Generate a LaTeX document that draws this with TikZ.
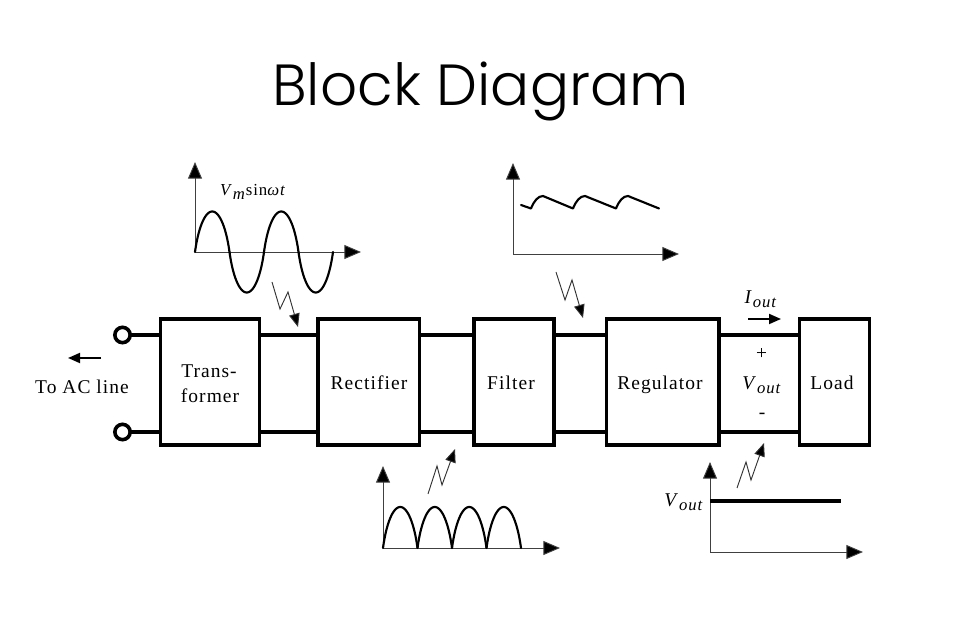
\documentclass[tikz,border=0pt]{standalone}
\usepackage{fontspec}
\usetikzlibrary{arrows.meta}
\setmainfont{Liberation Serif}[LetterSpace=5.5]
\newfontfamily\titlefont{Poppins Light}
\tikzset{
  block/.style={draw=black,line width=2.7pt,fill=white,inner sep=0pt,outer sep=0pt,anchor=north west,minimum height=94.3pt},
  wire/.style={line width=2.7pt},
  term/.style={circle,draw=black,line width=2.7pt,fill=white,minimum size=11.5pt,inner sep=0pt,outer sep=0pt},
  axis/.style={line width=0.7pt,draw=black!75,-{Triangle[length=12.5pt,width=10.5pt,fill=black]}},
  wave/.style={line width=1.6pt,line join=round,line cap=round},
  zig/.style={line width=0.7pt,draw=black!80,line join=miter,-{Triangle[length=10pt,width=8pt,fill=black]}},
  lab/.style={font=\fontsize{14.6}{16}\selectfont,inner sep=0pt,anchor=base},
  flow/.style={line width=1.4pt,-{Triangle[length=9pt,width=7.5pt,fill=black]}}
}
\newcommand{\sub}[2]{\textit{#1}\raisebox{-3pt}{\fontsize{12.5}{13}\selectfont\textit{#2}}}
\begin{document}
\begin{tikzpicture}[x=0.75pt,y=-0.75pt]
\useasboundingbox (0,0) rectangle (960,630);
\node[inner sep=0pt,font=\titlefont\fontsize{43.5}{50}\selectfont] (title) at (480.5,91) {Block Diagram};

% blocks
\node[block,minimum width=74.25pt] (trans) at (160.5,319) {};
\node[lab] (transa) at (209,378) {Trans-};
\node[lab] (transb) at (210,403) {former};
\node[block,minimum width=76.1pt] (rect) at (318,319) {};
\node[lab] (rectt) at (369,390) {Rectifier};
\node[block,minimum width=60pt] (filt) at (474,319) {};
\node[lab] (filtt) at (511,390) {Filter};
\node[block,minimum width=84.4pt] (reg) at (606.5,319) {};
\node[lab] (regt) at (660,390) {Regulator};
\node[block,minimum width=52.5pt] (load) at (799.5,319) {};
\node[lab] (loadt) at (832,390) {Load};

% terminals and wires
\node[term] (t1) at (122.5,335) {};
\node[term] (t2) at (122.5,432) {};
\coordinate (up) at (0,335);
\coordinate (lo) at (0,432);
\foreach \a/\b in {t1/trans,trans/rect,rect/filt,filt/reg,reg/load}{
  \draw[wire] (\a.east |- up) -- (\b.west |- up);
}
\foreach \a/\b in {t2/trans,trans/rect,rect/filt,filt/reg,reg/load}{
  \draw[wire] (\a.east |- lo) -- (\b.west |- lo);
}

% AC line
\coordinate (ac1) at (101,358);
\coordinate (ac2) at (68,358);
\draw[flow] (ac1) -- (ac2);
\node[lab] (ac) at (82,394) {To AC line};

% output labels
\coordinate (i1) at (748,319);
\coordinate (i2) at (781,319);
\draw[flow] (i1) -- (i2);
\node[lab] (iout) at (761,304) {\sub{I}{out}};
\node[lab] (plus) at (761.5,360) {+};
\node[lab] (vo) at (762,390) {\sub{V}{out}};
\node[lab] (minus) at (762,419) {-};

% sine plot
\coordinate (o1) at (195,252);
\coordinate (o1y) at (195,162);
\coordinate (o1x) at (361,252);
\draw[axis] (o1) -- (o1y);
\draw[axis] (o1) -- (o1x);
\foreach \s/\a in {195/40.5,229.5/-40.5,264/40.5,298.5/-40.5}{
  \draw[wave,smooth,samples=40,domain=0:180] plot ({\s+8.625*(1-cos(\x))+17.25*\x/180},{252-\a*sin(\x)});
}
\node[lab,font=\fontsize{12.6}{14}\selectfont] (vm) at (253,196) {\sub{V}{m}{\fontsize{12.6}{14}\selectfont sin}\textit{ωt}};

% ripple plot
\coordinate (o2) at (513,254);
\coordinate (o2y) at (513,163);
\coordinate (o2x) at (679,254);
\draw[axis] (o2) -- (o2y);
\draw[axis] (o2) -- (o2x);
\draw[wave] (521,205) -- (531,208.5)
  .. controls (534,201) and (538,196) .. (543,196) -- (573,208.5)
  .. controls (576,201) and (580,196) .. (585,196) -- (616,208.5)
  .. controls (619,201) and (623,196) .. (628,196) -- (659,208.5);

% rectified plot
\coordinate (o3) at (383,548);
\coordinate (o3y) at (383,466);
\coordinate (o3x) at (560,548);
\draw[axis] (o3) -- (o3y);
\draw[axis] (o3) -- (o3x);
\foreach \s in {383,417.5,452,486.5}{
  \draw[wave,smooth,samples=40,domain=0:180] plot ({\s+8.625*(1-cos(\x))+17.25*\x/180},{548-41*sin(\x)});
}

% dc plot
\coordinate (o4) at (710,552);
\coordinate (o4y) at (710,462);
\coordinate (o4x) at (863,552);
\coordinate (dc) at (841,501);
\draw[axis] (o4) -- (o4y);
\draw[axis] (o4) -- (o4x);
\draw[line width=2.5pt] (o4 |- dc) -- (dc);
\node[lab] (vo2) at (684,507) {\sub{V}{out}};

% zigzag arrows
\draw[zig] (272,282) -- (280,309) -- (288,292) -- (298,327);
\draw[zig] (556,272) -- (565,300) -- (572,280) -- (583,318);
\draw[zig] (428,494) -- (437,466) -- (442,485) -- (455,449);
\draw[zig] (737,488) -- (746,462) -- (751,480) -- (764,443);
\end{tikzpicture}
\end{document}
